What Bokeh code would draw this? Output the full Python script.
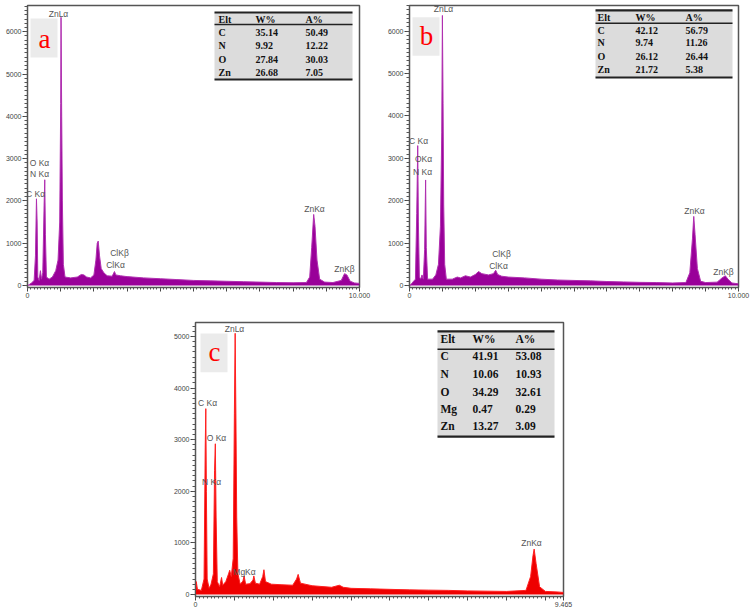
from bokeh.plotting import figure
from bokeh.layouts import column, row, Spacer
from bokeh.models import FixedTicker, Label, ColumnDataSource
from bokeh.embed import file_html
from bokeh.resources import INLINE
from bokeh.core.properties import value

# ---------------- data ----------------
a_energy = [0.00, 0.05, 0.12, 0.20, 0.24, 0.27, 0.29, 0.31, 0.35, 0.39, 0.42, 0.46, 0.50, 0.52, 0.54, 0.57,
            0.65, 0.75, 0.85, 0.92, 0.97, 1.00, 1.01, 1.03, 1.05, 1.08, 1.13, 1.30, 1.50, 1.62, 1.70, 1.78,
            1.90, 2.00, 2.06, 2.10, 2.13, 2.17, 2.22, 2.30, 2.40, 2.55, 2.62, 2.66, 2.80, 3.00, 3.50, 4.00,
            4.50, 5.00, 5.50, 6.00, 6.50, 7.00, 7.50, 8.00, 8.40, 8.50, 8.56, 8.62, 8.66, 8.72, 8.80, 8.95,
            9.20, 9.45, 9.55, 9.62, 9.72, 9.85, 10.0]
a_counts = [0, 20, 60, 120, 700, 2050, 1500, 200, 120, 350, 150, 300, 1900, 2500, 1200, 200,
            150, 200, 350, 600, 1500, 4300, 6340, 4000, 2000, 500, 200, 180, 200, 260, 250, 200,
            180, 250, 600, 1000, 1050, 700, 400, 300, 230, 220, 330, 250, 230, 210, 180, 160,
            140, 120, 110, 100, 90, 80, 70, 65, 70, 200, 900, 1680, 1400, 600, 150, 80,
            70, 120, 280, 250, 100, 60, 50]

b_energy = [0.00, 0.05, 0.10, 0.18, 0.22, 0.25, 0.27, 0.30, 0.34, 0.38, 0.42, 0.46, 0.49, 0.51, 0.55,
            0.70, 0.80, 0.88, 0.94, 0.98, 1.00, 1.02, 1.04, 1.07, 1.12, 1.30, 1.45, 1.55, 1.70, 1.85,
            2.00, 2.10, 2.20, 2.40, 2.55, 2.62, 2.68, 2.80, 3.00, 3.50, 4.00, 4.50, 5.00, 5.50, 6.00,
            6.50, 7.00, 7.50, 8.00, 8.40, 8.52, 8.60, 8.64, 8.68, 8.75, 8.85, 9.00, 9.35, 9.50, 9.60,
            9.68, 9.80, 10.0]
b_counts = [0, 30, 80, 150, 1700, 3300, 1500, 200, 150, 250, 150, 850, 2490, 900, 150,
            150, 250, 500, 1400, 3600, 6370, 4300, 1900, 500, 150, 150, 200, 180, 230, 200,
            260, 330, 280, 250, 280, 360, 260, 220, 200, 180, 150, 130, 120, 110, 95,
            85, 75, 70, 60, 70, 300, 1100, 1630, 1200, 400, 100, 70, 80, 180, 230,
            150, 60, 40]

c_energy = [0.00, 0.02, 0.05, 0.15, 0.22, 0.25, 0.265, 0.28, 0.30, 0.35, 0.40, 0.46, 0.49, 0.51, 0.53,
            0.56, 0.62, 0.67, 0.70, 0.78, 0.85, 0.88, 0.92, 0.97, 1.00, 1.02, 1.04, 1.06, 1.09, 1.15,
            1.22, 1.25, 1.29, 1.40, 1.48, 1.50, 1.54, 1.65, 1.73, 1.76, 1.80, 1.95, 2.20, 2.50, 2.60,
            2.64, 2.70, 3.00, 3.50, 3.70, 3.80, 4.00, 4.50, 5.00, 5.50, 6.00, 6.50, 7.00, 7.50, 8.00,
            8.50, 8.62, 8.68, 8.71, 8.76, 8.85, 9.00, 9.30, 9.465]
c_counts = [0, 250, 100, 80, 300, 2850, 3600, 2000, 300, 120, 200, 400, 2400, 2920, 1500,
            250, 150, 330, 180, 250, 400, 470, 350, 700, 3500, 5060, 3400, 1500, 400, 200,
            260, 360, 200, 210, 280, 360, 220, 200, 350, 480, 250, 200, 190, 180, 300,
            390, 220, 170, 140, 180, 140, 120, 110, 100, 90, 85, 80, 70, 65, 60,
            80, 350, 750, 880, 600, 150, 60, 50, 40]

ab_count_ticks = [0, 1000, 2000, 3000, 4000, 5000, 6000]
c_count_ticks = [0, 1000, 2000, 3000, 4000, 5000]
ab_energy_ticks = [0, 1, 2, 3, 4, 5, 6, 7, 8, 9, 10]
ab_energy_tick_labels = {0: "0", 10: "10.000"}
c_energy_ticks = [0, 1, 2, 3, 4, 5, 6, 7, 8, 9, 9.465]
c_energy_tick_labels = {0: "0", 9.465: "9.465"}

a_peak_names = ["ZnLα", "O Kα", "N Kα", "C Kα", "ClKβ", "ClKα", "ZnKα", "ZnKβ"]
b_peak_names = ["ZnLα", "C Kα", "OKα", "N Kα", "ClKβ", "ClKα", "ZnKα", "ZnKβ"]
c_peak_names = ["ZnLα", "C Kα", "O Kα", "N Kα", "MgKα", "ZnKα"]

table_header = ["Elt", "W%", "A%"]
a_elements = ["C", "N", "O", "Zn"]
a_weight = ["35.14", "9.92", "27.84", "26.68"]
a_atomic = ["50.49", "12.22", "30.03", "7.05"]
b_elements = ["C", "N", "O", "Zn"]
b_weight = ["42.12", "9.74", "26.12", "21.72"]
b_atomic = ["56.79", "11.26", "26.44", "5.38"]
c_elements = ["C", "N", "O", "Mg", "Zn"]
c_weight = ["41.91", "10.06", "34.29", "0.47", "13.27"]
c_atomic = ["53.08", "10.93", "32.61", "0.29", "3.09"]

# ---------------- layout (page pixels) ----------------
LAY_A = dict(origin=(0, 0), size=(380, 300), e0=27, kpx=33.2, c0=285, cpx=0.0423,
             frame=(27, 359, 5, 287), letter_box=(30, 57, 18, 57), letter_at=(44, 38),
             labels=[(58, 13), (39, 162), (39, 173), (35, 193), (119, 252), (115, 264), (314, 208), (344, 268)],
             kev=(368, 278),
             table=dict(box=(214, 352, 12, 79), head_line=24, head_y=19, rows=[32, 45, 59, 72],
                        cols=[218, 255, 305], size=10))
LAY_B = dict(origin=(380, 0), size=(376, 300), e0=409, kpx=32.9, c0=287, cpx=0.043,
             frame=(409, 738, 3, 289), letter_box=(412, 439, 15, 54), letter_at=(426, 34),
             labels=[(443, 7), (418, 140), (423, 159), (422, 172), (501, 255), (498, 267), (694, 211), (723, 273)],
             kev=(748, 282),
             table=dict(box=(595, 732, 8, 76), head_line=21, head_y=15, rows=[28, 41, 55, 68],
                        cols=[597, 635, 685], size=10))
LAY_C = dict(origin=(155, 300), size=(440, 309), e0=195, kpx=38.88, c0=596, cpx=0.052,
             frame=(195, 563, 322, 598), letter_box=(200, 227, 333, 372), letter_at=(214, 352),
             labels=[(234, 329), (207, 403), (216, 438), (211, 483), (244, 573), (531, 544)],
             kev=(574, 591),
             table=dict(box=(437, 554, 331, 437), head_line=349, head_y=339, rows=[356, 374, 392, 409, 426],
                        cols=[440, 472, 515], size=11.5))

SANS = "Liberation Sans"
SERIF = "Liberation Serif"


def make_panel(energy, counts, fill, edge, letter, names, elements, weight, atomic,
               yticks, xticks, xlabels, L):
    ox, oy = L["origin"]
    W, H = L["size"]
    fl, fr, ft, fb = L["frame"]

    def X(px):
        return (px - L["e0"]) / L["kpx"]

    def Y(py):
        return (L["c0"] - py) / L["cpx"]

    p = figure(width=W, height=H, x_range=(X(fl), X(fr)), y_range=(Y(fb), Y(ft)),
               output_backend="svg", toolbar_location=None,
               min_border_left=fl - ox, min_border_right=ox + W - fr,
               min_border_top=ft - oy, min_border_bottom=oy + H - fb)
    p.grid.visible = False
    p.outline_line_color = "#555555"
    p.outline_line_width = 1.5
    p.background_fill_color = "white"

    # axes
    ymax = Y(ft)
    p.yaxis.ticker = FixedTicker(ticks=yticks, minor_ticks=[v for v in range(0, int(ymax), 100)])
    xmax = X(fr)
    p.xaxis.ticker = FixedTicker(ticks=xticks, minor_ticks=[i / 10 for i in range(0, int(xmax * 10) + 1)])
    overrides = {t: "" for t in xticks}
    overrides.update(xlabels)
    p.xaxis.major_label_overrides = overrides
    for ax in (p.xaxis[0], p.yaxis[0]):
        ax.axis_line_color = "#555555"
        ax.major_tick_line_color = "#444444"
        ax.minor_tick_line_color = "#555555"
        ax.major_tick_in = 0
        ax.minor_tick_in = 0
        ax.major_tick_out = 5
        ax.minor_tick_out = 3
        ax.major_label_text_font = SANS
        ax.major_label_text_font_size = "7px"
        ax.major_label_text_color = "#444444"
        ax.major_label_standoff = 1
    p.xaxis.major_tick_out = 4
    p.xaxis.minor_tick_out = 2

    # spectrum
    p.varea(x=energy, y1=0, y2=counts, fill_color=fill)
    p.line(energy, counts, line_color=edge, line_width=1)

    # sample letter
    lb = L["letter_box"]
    p.quad(left=X(lb[0]), right=X(lb[1]), top=Y(lb[2]), bottom=Y(lb[3]),
           fill_color="#ebebeb", line_color=None)
    la = L["letter_at"]
    p.add_layout(Label(x=X(la[0]), y=Y(la[1]), text=letter, text_align="center",
                       text_baseline="middle", text_font=SERIF, text_font_size="27px",
                       text_color="#ff0000"))

    # peak labels
    for name, (px, py) in zip(names, L["labels"]):
        p.add_layout(Label(x=X(px), y=Y(py), text=name, text_align="center",
                           text_baseline="middle", text_font=SANS, text_font_size="8.5px",
                           text_color="#555555"))
    kx, ky = L["kev"]
    p.add_layout(Label(x=X(kx), y=Y(ky), text="keV", text_align="center",
                       text_baseline="middle", text_font=SANS, text_font_size="7px",
                       text_color="#444444"))

    # composition table
    T = L["table"]
    bl, br, bt, bb = T["box"]
    p.quad(left=X(bl), right=X(br), top=Y(bt), bottom=Y(bb), fill_color="#dcdcdc", line_color=None)
    p.segment(x0=[X(bl), X(bl), X(bl)], x1=[X(br), X(br), X(br)],
              y0=[Y(bt), Y(T["head_line"]), Y(bb)], y1=[Y(bt), Y(T["head_line"]), Y(bb)],
              line_color="#222222", line_width=[2.2, 1.6, 2.2])
    xs, ys, txt = [], [], []
    for j, h in enumerate(table_header):
        xs.append(X(T["cols"][j])); ys.append(Y(T["head_y"])); txt.append(h)
    for i, (e, w, a) in enumerate(zip(elements, weight, atomic)):
        for j, t in enumerate((e, w, a)):
            xs.append(X(T["cols"][j])); ys.append(Y(T["rows"][i])); txt.append(t)
    src = ColumnDataSource(dict(x=xs, y=ys, t=txt))
    p.text(x="x", y="y", text="t", source=src, text_align="left", text_baseline="middle",
           text_font=value(SERIF), text_font_style="bold", text_font_size=f"{T['size']}px",
           text_color="#111111")
    return p


pa = make_panel(a_energy, a_counts, "#990099", "#b030b0", "a", a_peak_names,
                a_elements, a_weight, a_atomic, ab_count_ticks, ab_energy_ticks,
                ab_energy_tick_labels, LAY_A)
pb = make_panel(b_energy, b_counts, "#990099", "#b030b0", "b", b_peak_names,
                b_elements, b_weight, b_atomic, ab_count_ticks, ab_energy_ticks,
                ab_energy_tick_labels, LAY_B)
pc = make_panel(c_energy, c_counts, "#ee0000", "#ff2020", "c", c_peak_names,
                c_elements, c_weight, c_atomic, c_count_ticks, c_energy_ticks,
                c_energy_tick_labels, LAY_C)

layout = column(row(pa, pb, spacing=0), row(Spacer(width=155, height=309), pc, spacing=0), spacing=0)
open("out.html", "w").write(file_html(layout, INLINE))
